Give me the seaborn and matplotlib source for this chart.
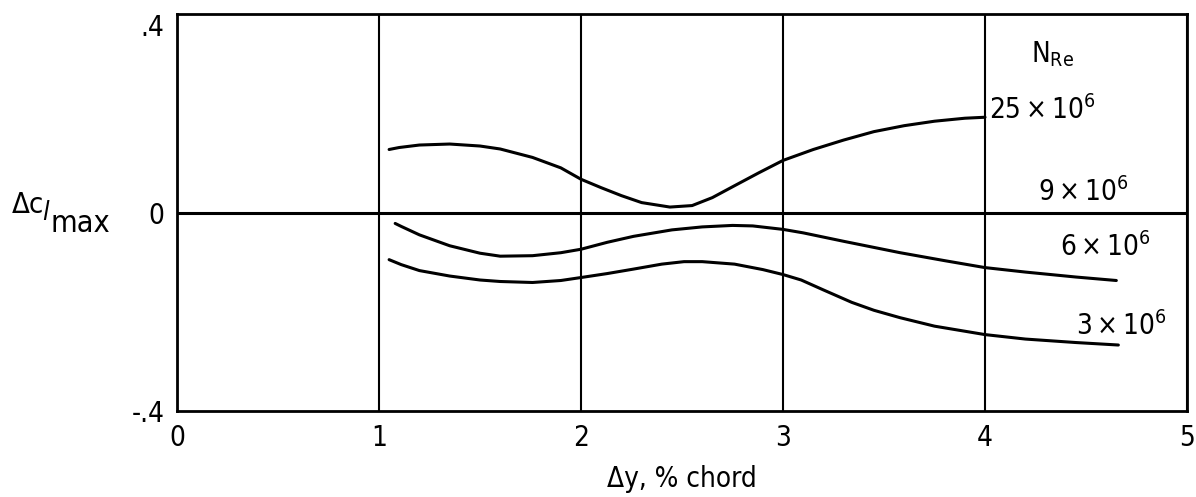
import numpy as np
import pandas as pd
import matplotlib
matplotlib.use("Agg")
import matplotlib.pyplot as plt
import seaborn as sns

# ---- data ----
x_25 = [1.05, 1.10, 1.20, 1.35, 1.50, 1.60, 1.76, 1.90, 2.00, 2.10, 2.20, 2.30, 2.44,
        2.55, 2.65, 2.76, 2.88, 3.00, 3.15, 3.30, 3.45, 3.60, 3.75, 3.90, 4.00]
y_25 = [0.127, 0.131, 0.136, 0.138, 0.134, 0.128, 0.111, 0.090, 0.067, 0.050, 0.034, 0.020, 0.011,
        0.014, 0.030, 0.054, 0.080, 0.105, 0.127, 0.146, 0.163, 0.175, 0.184, 0.190, 0.192]

x_9 = [0.0, 5.0]
y_9 = [0.0, 0.0]

x_6 = [1.08, 1.11, 1.20, 1.35, 1.50, 1.60, 1.76, 1.90, 2.00, 2.13, 2.26, 2.45, 2.60, 2.75,
       2.85, 3.00, 3.10, 3.30, 3.58, 3.80, 4.00, 4.20, 4.45, 4.65]
y_6 = [-0.022, -0.028, -0.045, -0.067, -0.082, -0.088, -0.087, -0.081, -0.074, -0.060, -0.048,
       -0.035, -0.029, -0.026, -0.027, -0.034, -0.041, -0.058, -0.081, -0.097, -0.111, -0.120,
       -0.130, -0.137]

x_3 = [1.05, 1.11, 1.20, 1.35, 1.50, 1.60, 1.76, 1.90, 2.00, 2.13, 2.26, 2.40, 2.51, 2.60,
       2.76, 2.90, 3.00, 3.09, 3.20, 3.34, 3.45, 3.58, 3.75, 4.00, 4.20, 4.45, 4.66]
y_3 = [-0.095, -0.105, -0.117, -0.128, -0.136, -0.139, -0.141, -0.137, -0.131, -0.123, -0.114,
       -0.104, -0.099, -0.099, -0.104, -0.115, -0.125, -0.136, -0.156, -0.181, -0.197, -0.212,
       -0.229, -0.246, -0.255, -0.262, -0.267]

series_names = ["25e6", "9e6", "6e6", "3e6"]
curve_labels = [r"$\mathregular{25\times10^{6}}$", r"$\mathregular{9\times10^{6}}$",
                r"$\mathregular{6\times10^{6}}$", r"$\mathregular{3\times10^{6}}$"]
label_pos = [(4.02, 0.188), (4.26, 0.024), (4.37, -0.087), (4.45, -0.246)]

x_ticks = [0, 1, 2, 3, 4, 5]
x_ticklabels = ["0", "1", "2", "3", "4", "5"]
y_ticks = [-0.4, 0.0, 0.4]
y_ticklabels = ["-.4", "0", ".4"]

frames = []
for name, xs, ys in zip(series_names, [x_25, x_9, x_6, x_3], [y_25, y_9, y_6, y_3]):
    frames.append(pd.DataFrame({"x": xs, "y": ys, "series": name}))
df = pd.concat(frames, ignore_index=True)

sns.set_theme(style="white")
plt.rcParams['font.family'] = ['Liberation Sans Narrow', 'DejaVu Sans']
plt.rcParams['font.stretch'] = 'condensed'
plt.rcParams['mathtext.fontset'] = 'custom'
plt.rcParams['mathtext.rm'] = 'DejaVu Sans:stretch=condensed'
plt.rcParams['mathtext.it'] = 'DejaVu Sans:italic:stretch=condensed'
plt.rcParams['mathtext.sf'] = 'DejaVu Sans:stretch=condensed'

fig = plt.figure(figsize=(11.96, 4.97), dpi=100)
ax = fig.add_axes([0.148, 0.173, 0.8445, 0.7988])

sns.lineplot(data=df, x="x", y="y", hue="series", units="series", estimator=None,
             sort=False, palette={n: "black" for n in series_names}, legend=False,
             linewidth=2.2, ax=ax)

ax.set_xlim(0, 5)
ax.set_ylim(-0.4, 0.4)
ax.set_xticks(x_ticks)
ax.set_xticklabels(x_ticklabels)
ax.set_yticks(y_ticks)
ax.set_yticklabels(y_ticklabels)
ax.tick_params(length=0, labelsize=20, colors="black", pad=9)
for lbl in ax.get_yticklabels():
    if lbl.get_text() == ".4":
        lbl.set_verticalalignment("top")
ax.grid(axis="x", color="black", linewidth=1.5)
ax.grid(axis="y", visible=False)
for s in ax.spines.values():
    s.set_color("black")
    s.set_linewidth(2)

ax.set_xlabel("Δy, % chord", fontsize=20, color="black", labelpad=10)
ax.set_ylabel("Δc", fontsize=21, color="black", rotation=0, ha="left", va="baseline")
ax.yaxis.set_label_coords(-0.164, 0.50)
ax.text(-0.1336, 0.481, "l", transform=ax.transAxes, fontsize=19, color="black",
        style="italic", ha="left", va="baseline")
ax.text(-0.125, 0.451, "max", transform=ax.transAxes, fontsize=22, color="black",
        ha="left", va="baseline")

ax.text(4.23, 0.303, r"$\mathregular{N_{Re}}$", fontsize=20, color="black", va="baseline")
for lab, (tx, ty) in zip(curve_labels, label_pos):
    ax.text(tx, ty, lab, fontsize=20, color="black", va="baseline", ha="left")

fig.savefig("out.png", dpi=100)
